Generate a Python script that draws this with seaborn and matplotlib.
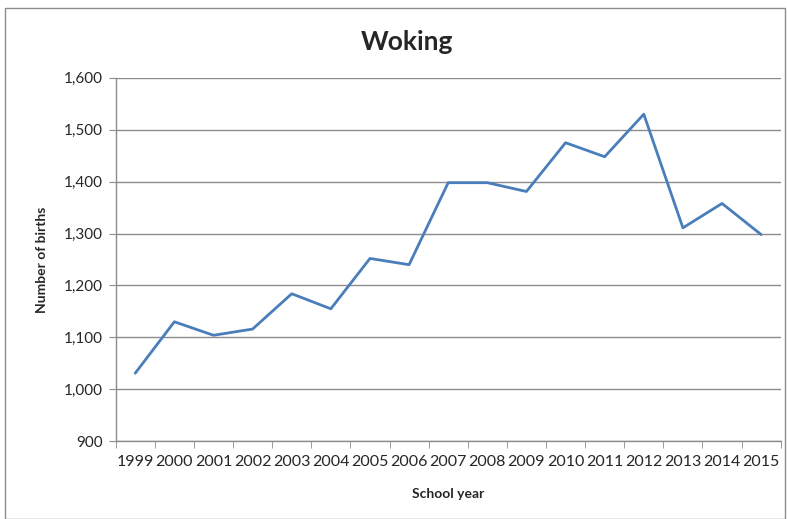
import numpy as np
import pandas as pd
import matplotlib
matplotlib.use('Agg')
import matplotlib.pyplot as plt
import seaborn as sns
from matplotlib.ticker import FuncFormatter, FixedLocator

years = ['1999', '2000', '2001', '2002', '2003', '2004', '2005', '2006', '2007',
         '2008', '2009', '2010', '2011', '2012', '2013', '2014', '2015']
births = [1031, 1130, 1104, 1116, 1184, 1155, 1252, 1240, 1398,
          1398, 1381, 1475, 1448, 1530, 1311, 1358, 1298]

data = pd.DataFrame({'year': years, 'births': births})

sns.set_style('white')
plt.rcParams['font.family'] = ['Lato', 'DejaVu Sans']

fig = plt.figure(figsize=(7.87, 5.19), dpi=100)
ax = fig.add_axes([0.147, 0.150, 0.845, 0.700])

sns.lineplot(data=data, x='year', y='births', color='#4A7EBB', linewidth=2.0, ax=ax)

ax.set_xlim(-0.5, len(years) - 0.5)
ax.set_ylim(900, 1600)
ax.set_yticks(np.arange(900, 1601, 100))
ax.yaxis.set_major_formatter(FuncFormatter(lambda v, p: f'{int(v):,}'))
ax.yaxis.grid(True, color='#8c8c8c', linewidth=1.0)
ax.set_axisbelow(True)

# category ticks between the points, like a spreadsheet chart
ax.xaxis.set_minor_locator(FixedLocator(np.arange(-0.5, len(years), 1.0)))
ax.tick_params(axis='x', which='major', length=0, pad=10, labelsize=11.5)
ax.tick_params(axis='x', which='minor', length=5, color='#8c8c8c', direction='out', bottom=True)
ax.tick_params(axis='y', which='major', length=5, color='#8c8c8c', direction='out', left=True, labelsize=11, pad=4)

for s in ['top', 'right']:
    ax.spines[s].set_visible(False)
for s in ['left', 'bottom']:
    ax.spines[s].set_color('#8c8c8c')
    ax.spines[s].set_linewidth(1.0)

ax.set_xlabel('School year', fontsize=10, fontweight='bold', labelpad=14)
ax.set_ylabel('Number of births', fontsize=10, fontweight='bold', labelpad=12)

fig.text(407 / 787, 1 - 42 / 519, 'Woking', ha='center', va='center', fontsize=19, fontweight='bold')

# outer chart border
fig.patches.append(plt.Rectangle((5 / 787, 0.0), 780 / 787, 1 - 8 / 519, transform=fig.transFigure,
                                 fill=False, edgecolor='#8c8c8c', linewidth=1.0))

plt.savefig('out.png', dpi=100)
